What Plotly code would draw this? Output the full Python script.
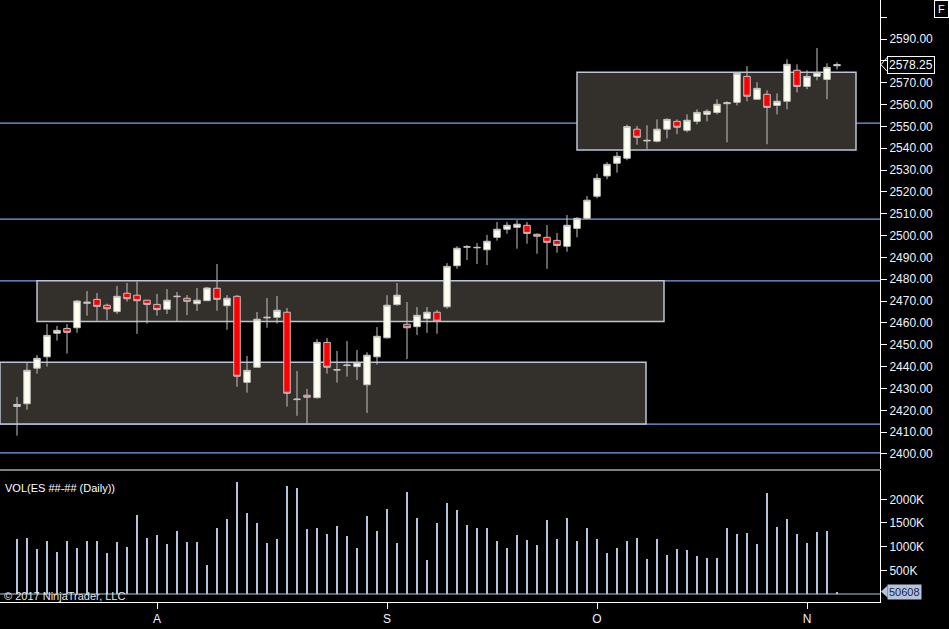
import plotly.graph_objects as go

opens = [2421.8, 2423.0, 2439.3, 2444.5, 2455.3, 2457.5, 2457.8, 2469.0, 2470.8, 2468.1,
  2465.2, 2473.6, 2472.7, 2470.4, 2468.5, 2466.3, 2472.0, 2471.3, 2468.8, 2470.2,
  2475.9, 2467.9, 2472.2, 2432.8, 2439.7, 2462.3, 2462.6, 2464.9, 2424.9, 2426.9,
  2425.8, 2451.1, 2438.4, 2440.5, 2440.0, 2431.7, 2444.5, 2453.2, 2468.4, 2459.4,
  2458.3, 2462.0, 2464.9, 2467.4, 2486.2, 2494.7, 2494.4, 2493.5, 2499.2, 2502.9,
  2503.8, 2504.7, 2500.6, 2499.2, 2497.8, 2495.1, 2503.3, 2507.9, 2518.0, 2527.3,
  2533.1, 2535.4, 2548.7, 2543.3, 2543.2, 2548.7, 2552.3, 2548.2, 2552.3, 2555.5,
  2556.4, 2560.4, 2561.0, 2572.9, 2562.4, 2564.7, 2559.6, 2561.5, 2575.7, 2568.3,
  2572.9, 2571.5, 2577.75]
highs = [2426.1, 2441.8, 2445.3, 2459.5, 2458.6, 2459.5, 2470.5, 2474.6, 2473.7, 2468.8,
  2476.9, 2478.3, 2478.9, 2470.5, 2473.3, 2475.5, 2474.2, 2472.8, 2476.0, 2476.5,
  2487.0, 2472.8, 2472.8, 2444.9, 2465.0, 2471.4, 2472.3, 2466.8, 2438.0, 2429.8,
  2452.6, 2453.1, 2447.2, 2451.7, 2447.6, 2446.6, 2458.1, 2472.7, 2478.3, 2469.6,
  2467.3, 2467.3, 2465.9, 2487.4, 2495.1, 2495.7, 2496.6, 2500.3, 2506.2, 2506.2,
  2507.1, 2506.2, 2501.0, 2504.8, 2501.2, 2509.4, 2508.4, 2518.1, 2528.2, 2533.6,
  2538.3, 2550.8, 2550.2, 2550.5, 2553.2, 2553.7, 2553.2, 2555.5, 2557.8, 2557.8,
  2562.4, 2561.5, 2574.5, 2577.6, 2570.2, 2566.5, 2565.1, 2580.7, 2578.4, 2575.7,
  2585.9, 2578.9, 2579.3]
lows = [2408.4, 2420.3, 2436.8, 2440.0, 2451.9, 2446.0, 2455.5, 2463.3, 2461.0, 2461.4,
  2464.1, 2469.8, 2455.0, 2459.7, 2463.3, 2464.1, 2460.9, 2463.6, 2465.5, 2470.2,
  2465.6, 2456.9, 2430.8, 2428.1, 2439.7, 2457.8, 2459.7, 2421.7, 2417.5, 2413.9,
  2425.3, 2436.8, 2432.7, 2435.4, 2433.9, 2418.8, 2440.9, 2452.8, 2467.9, 2443.5,
  2454.5, 2455.5, 2455.1, 2466.5, 2484.8, 2488.8, 2487.0, 2486.5, 2497.7, 2500.9,
  2494.0, 2496.3, 2491.7, 2484.8, 2492.2, 2492.6, 2499.2, 2507.5, 2517.0, 2525.8,
  2528.8, 2534.5, 2541.6, 2539.5, 2542.7, 2544.5, 2546.4, 2547.3, 2550.9, 2552.3,
  2555.5, 2542.7, 2559.6, 2561.5, 2562.4, 2541.8, 2555.5, 2557.8, 2565.6, 2567.0,
  2571.1, 2562.4, 2576.1]
closes = [2422.7, 2438.3, 2443.8, 2454.3, 2456.6, 2455.7, 2470.0, 2469.5, 2467.6, 2466.5,
  2472.2, 2471.1, 2470.2, 2468.5, 2466.1, 2470.4, 2472.2, 2469.9, 2470.4, 2476.0,
  2470.8, 2471.3, 2435.6, 2438.3, 2461.7, 2462.6, 2465.8, 2427.8, 2425.1, 2426.0,
  2451.1, 2439.7, 2438.6, 2440.7, 2441.8, 2445.2, 2453.9, 2468.1, 2472.7, 2457.8,
  2463.5, 2464.9, 2460.8, 2485.9, 2494.2, 2494.9, 2494.6, 2497.4, 2502.9, 2504.7,
  2505.2, 2501.0, 2499.7, 2496.9, 2495.5, 2504.7, 2507.9, 2516.2, 2526.2, 2532.6,
  2536.3, 2549.9, 2545.0, 2543.6, 2548.7, 2553.2, 2549.6, 2552.8, 2556.4, 2556.9,
  2560.1, 2560.8, 2574.3, 2563.8, 2567.4, 2558.7, 2561.5, 2578.4, 2568.3, 2572.9,
  2574.6, 2577.0, 2578.25]
volumes = [1162000, 1183000, 950000, 1119000, 887000, 1119000, 971000, 1119000, 1119000, 866000,
  1098000, 993000, 1668000, 1183000, 1246000, 1056000, 1331000, 1098000, 1098000, 612000,
  1394000, 1584000, 2365000, 1711000, 1500000, 1077000, 1162000, 2281000, 2239000, 1373000,
  1394000, 1267000, 1436000, 1225000, 971000, 1647000, 1331000, 1795000, 1077000, 2154000,
  1605000, 718000, 1500000, 1922000, 1774000, 1457000, 1394000, 1394000, 1119000, 971000,
  1246000, 1140000, 1035000, 1563000, 1162000, 1605000, 1119000, 1394000, 1162000, 866000,
  971000, 1119000, 1183000, 739000, 1162000, 824000, 950000, 929000, 803000, 760000,
  760000, 1394000, 1267000, 1288000, 1056000, 2133000, 1415000, 1584000, 1267000, 1077000,
  1309000, 1331000, 50608]

month_pos = [14, 37, 58, 79]
month_labels = ["A", "S", "O", "N"]

# 2580 is hidden under the last-price marker, 2600 only has a tick
price_ticks = [2400, 2410, 2420, 2430, 2440, 2450, 2460, 2470, 2480, 2490, 2500,
  2510, 2520, 2530, 2540, 2550, 2560, 2570, 2580, 2590, 2600]
price_labels = ["2400.00", "2410.00", "2420.00", "2430.00", "2440.00", "2450.00", "2460.00",
  "2470.00", "2480.00", "2490.00", "2500.00", "2510.00", "2520.00", "2530.00", "2540.00",
  "2550.00", "2560.00", "2570.00", "", "2590.00", ""]
vol_ticks = [500000, 1000000, 1500000, 2000000]
vol_labels = ["500K", "1000K", "1500K", "2000K"]

# drawn levels and zones (bar index from/to, price low/high)
levels = [2551.5, 2507.5, 2479.3, 2413.7, 2400.5]
zones = [(56, 83.9, 2539.2, 2574.75), (2, 64.7, 2460.7, 2479.3), (-1.7, 62.9, 2413.7, 2442.0)]

bars = list(range(len(closes)))
font = "Liberation Sans, Arial, sans-serif"
W, H = 949, 629
plot_right = 880 / W

fig = go.Figure()
fig.add_trace(go.Candlestick(
  x=bars, open=opens, high=highs, low=lows, close=closes,
  increasing=dict(fillcolor="#fffff0", line=dict(color="#c4c4c4", width=1)),
  decreasing=dict(fillcolor="#ff0000", line=dict(color="#c4c4c4", width=1)),
  whiskerwidth=0, xaxis="x", yaxis="y", showlegend=False, hoverinfo="skip"))
fig.add_trace(go.Bar(
  x=bars, y=volumes, width=0.22, marker=dict(color="#b4c4dc", line=dict(width=0)),
  xaxis="x", yaxis="y2", showlegend=False, hoverinfo="skip"))

shapes = []
for x0, x1, y0, y1 in zones:
  shapes.append(dict(type="rect", xref="x", yref="y", x0=x0, x1=x1, y0=y0, y1=y1,
    fillcolor="#332f2b", line=dict(color="#bcc6d6", width=1.5), layer="below"))
for lv in levels:
  shapes.append(dict(type="line", xref="x domain", yref="y", x0=0, x1=1, y0=lv, y1=lv,
    line=dict(color="#7aa0f0", width=1.2), layer="below"))
shapes.append(dict(type="line", xref="x domain", yref="y2", x0=0, x1=1, y0=0, y1=0,
  line=dict(color="#b4c4dc", width=1), layer="below"))
shapes.append(dict(type="line", xref="x domain", yref="paper", x0=0, x1=1,
  y0=1 - 470 / H, y1=1 - 470 / H, line=dict(color="#ffffff", width=1)))

# pointer notches of the last-value tags
last_p = closes[-1]
shapes.append(dict(type="path", xref="paper", yref="y",
  path="M %f,%f L %f,%f M %f,%f L %f,%f" % (887 / W, last_p + 3.3, 881 / W, last_p,
    881 / W, last_p, 887 / W, last_p - 3.0),
  line=dict(color="#ffffff", width=1)))
last_v = volumes[-1]
shapes.append(dict(type="path", xref="paper", yref="y2",
  path="M %f,%f L %f,%f L %f,%f Z" % (881 / W, last_v, 887.5 / W, last_v + 125000,
    887.5 / W, last_v - 125000),
  fillcolor="#b4c4dc", line=dict(width=0)))

annotations = [
  dict(text="2578.25", xref="paper", yref="y", x=886.5 / W, y=last_p, xanchor="left",
    yanchor="middle", showarrow=False, bgcolor="#000000", bordercolor="#ffffff",
    borderwidth=1, borderpad=1, font=dict(family=font, size=12, color="#ffffff")),
  dict(text=str(last_v), xref="paper", yref="y2", x=887 / W, y=last_v, xanchor="left",
    yanchor="middle", showarrow=False, bgcolor="#b4c4dc", borderpad=1,
    font=dict(family=font, size=11, color="#1a2440")),
  dict(text="F", xref="paper", yref="paper", x=941 / W, y=1 - 9 / H, xanchor="center",
    yanchor="middle", showarrow=False, bordercolor="#ffffff", borderwidth=1, borderpad=2,
    width=9, font=dict(family=font, size=11, color="#ffffff")),
  dict(text="VOL(ES ##-## (Daily))", xref="paper", yref="paper", x=3 / W, y=1 - 488 / H,
    xanchor="left", yanchor="middle", showarrow=False,
    font=dict(family=font, size=11, color="#ffffff")),
  dict(text="© 2017 NinjaTrader, LLC", xref="paper", yref="paper", x=2 / W, y=1 - 596 / H,
    xanchor="left", yanchor="middle", showarrow=False,
    font=dict(family=font, size=11, color="#e6e6e6")),
]

axis_font = dict(family=font, size=12, color="#eef2ff")
fig.update_layout(
  width=W, height=H, margin=dict(l=0, r=0, t=0, b=0),
  paper_bgcolor="#000000", plot_bgcolor="#000000",
  boxgap=0.35, boxgroupgap=0, bargap=0,
  xaxis=dict(domain=[0, plot_right], anchor="y2", range=[-1.7, 86.3],
    rangeslider=dict(visible=False), showgrid=False, zeroline=False,
    showline=True, linecolor="#ffffff", linewidth=1,
    ticks="outside", ticklen=6, tickcolor="#ffffff",
    tickvals=month_pos, ticktext=month_labels, tickfont=axis_font),
  yaxis=dict(domain=[1 - 469 / H, 1], anchor="x", side="right",
    range=[2393.13, 2607.86], showgrid=False, zeroline=False,
    showline=True, linecolor="#ffffff", linewidth=1,
    ticks="outside", ticklen=6, tickcolor="#ffffff",
    tickvals=price_ticks, ticktext=price_labels, tickfont=axis_font),
  yaxis2=dict(domain=[1 - 602 / H, 1 - 470 / H], anchor="x", side="right",
    range=[-168950, 2618800], showgrid=False, zeroline=False,
    showline=True, linecolor="#ffffff", linewidth=1,
    ticks="outside", ticklen=6, tickcolor="#ffffff",
    tickvals=vol_ticks, ticktext=vol_labels, tickfont=axis_font),
  shapes=shapes, annotations=annotations,
)

# page body has a default margin; drop it so the chart sits at the window origin
fig.write_html("out.html", config={"displayModeBar": False},
  post_script="document.body.style.margin='0';document.body.style.overflow='hidden';")
